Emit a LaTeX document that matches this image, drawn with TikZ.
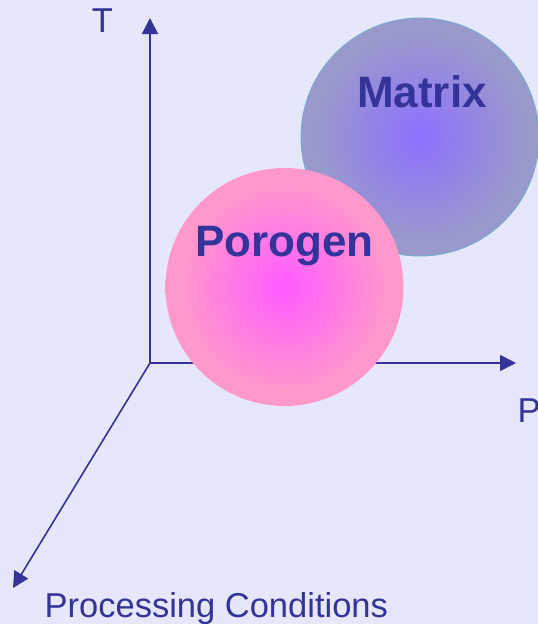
\documentclass[tikz,border=0pt]{standalone}
\usepackage{fontspec}
\setmainfont{Liberation Sans}
\usetikzlibrary{arrows.meta}
\definecolor{bgcol}{RGB}{230,230,252}
\definecolor{axiscol}{RGB}{51,51,153}
\definecolor{matrixin}{RGB}{142,112,255}
\definecolor{matrixout}{RGB}{153,153,204}
\definecolor{matrixline}{RGB}{110,175,205}
\definecolor{poroin}{RGB}{255,90,255}
\definecolor{poroout}{RGB}{255,153,204}
\pgfdeclareradialshading{matrixshade}{\pgfpoint{0bp}{0bp}}{color(0bp)=(matrixin); color(22bp)=(matrixout); color(25bp)=(matrixout); color(50bp)=(matrixout)}
\pgfdeclareradialshading{poroshade}{\pgfpoint{0bp}{0bp}}{color(0bp)=(poroin); color(22bp)=(poroout); color(25bp)=(poroout); color(50bp)=(poroout)}
\tikzset{
  axis/.style={draw=axiscol, line width=1.6pt, -{Triangle[length=16pt,width=16pt]}},
  axislabel/.style={text=axiscol, inner sep=0pt, font=\fontsize{34.5}{40}\selectfont},
  ball/.style={circle, minimum size=238pt, inner sep=0pt},
  balllabel/.style={text=axiscol, inner sep=0pt, font=\fontsize{44}{50}\selectfont\bfseries}
}
\begin{document}
\begin{tikzpicture}[x=1pt, y=-1pt]
\useasboundingbox (0,0) rectangle (538,624);
\fill[bgcol] (0,0) rectangle (538,624);
\coordinate (origin) at (150,363);
\coordinate (tend) at (150,18);
\coordinate (pend) at (516,363);
\coordinate (cend) at (13,588);
\draw[axis] (origin) -- (tend);
\draw[axis] (origin) -- (pend);
\draw[axis] (origin) -- (cend);
\node[axislabel, anchor=base] (tlabel) at (102.5,32) {T};
\node[axislabel, anchor=base west] (plabel) at (517.5,422) {P};
\node[axislabel, anchor=base west] (clabel) at (44.5,617) {Processing Conditions};
\node[ball, shading=matrixshade, draw=matrixline, line width=0.8pt] (matrix) at (420,137) {};
\node[ball, shading=poroshade] (porogen) at (284.5,287) {};
\node[balllabel, anchor=base] (matrixtext) at (422,107) {Matrix};
\node[balllabel, anchor=base] (porogentext) at (284.5,256) {Porogen};
\end{tikzpicture}
\end{document}
